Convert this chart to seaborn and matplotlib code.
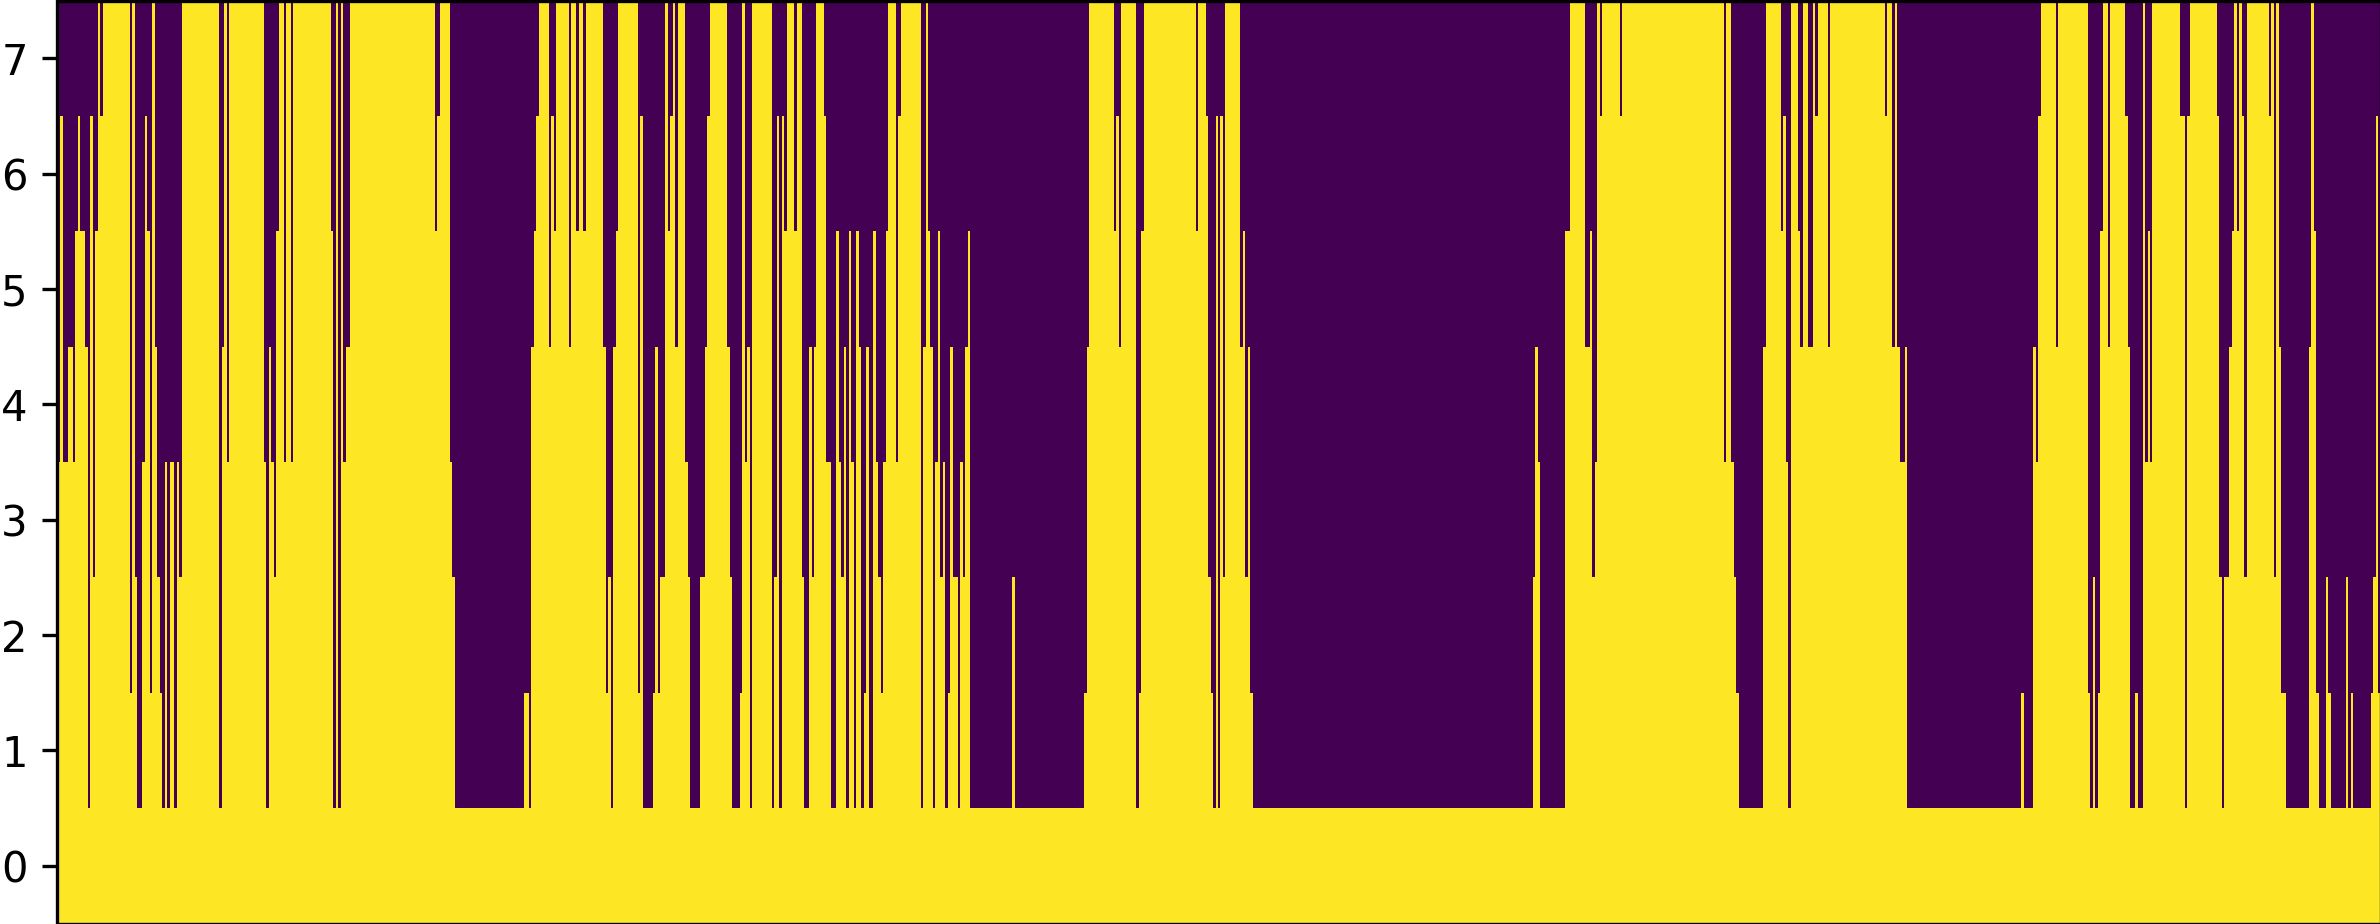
import numpy as np
import seaborn as sns
from matplotlib import pyplot as plt

# number of lit rows in each column, run-length encoded left to right
run_heights = [
    4, 7, 4, 5, 4, 6, 7, 6, 5, 1, 7, 3, 6, 8, 7, 8, 2, 8, 3, 1, 4, 7, 6, 2, 8, 5, 3, 2, 1, 4, 1, 4, 1, 4, 3, 8, 1, 5, 8, 4, 8,
    4, 1, 5, 4, 3, 6, 8, 4, 8, 4, 8, 6, 1, 8, 1, 8, 4, 5, 8, 6, 7, 8,
    4, 3, 1, 2, 1, 5, 6, 7, 8, 5, 7, 6, 8, 5, 8, 6, 8, 6, 8, 5, 2, 3, 1, 5, 6, 8, 2, 7, 1,
    2, 5, 2, 3, 8, 6, 7, 8, 5, 8, 4, 3, 1, 3, 5, 7, 8, 5, 3, 1, 2, 8, 4, 5, 1, 8, 1, 3, 7, 1, 7, 6, 8, 6, 8, 3, 1, 5, 3, 5, 8, 7, 4, 1, 6, 4, 3, 5, 1, 6,
    4, 1, 6, 5, 1, 2, 5, 1, 6, 4, 3, 2, 4, 6, 8, 4, 7, 8, 1, 5, 8, 6, 5, 1, 4, 6, 3, 4, 1, 2, 5, 3, 1, 4, 3, 5, 6, 1, 3, 1, 2, 5, 8,
    6, 7, 5, 8, 1, 2, 6, 8, 6, 8, 7, 3, 2, 1, 7, 1, 7, 3, 8, 5, 6, 3, 5, 2, 1,
    3, 5, 4, 1, 6, 8, 5, 6, 3, 4, 8, 7, 8, 7, 8, 4, 8, 4, 3, 2, 1,
    5, 8, 6, 7, 4, 1, 8, 6, 5, 8, 5, 8, 7, 8, 5, 8, 7, 8, 5, 8, 5, 4, 5, 1,
    2, 1, 5, 4, 7, 8, 5, 8, 2, 1, 3, 1, 2, 6, 8, 5, 8, 7, 5, 1, 2, 1, 8, 4, 6, 4, 8,
    7, 1, 7, 8, 7, 3, 1, 3, 5, 6, 8, 6, 8, 7, 3, 8, 7, 8, 3, 8, 5, 2, 1, 5, 8, 6, 2, 1, 3, 2, 1, 3, 1, 2, 1, 2, 3, 7, 2,
]
run_lengths = [
    1, 1, 2, 2, 1, 1, 1, 2, 1, 1, 1, 1, 1, 1, 1, 11, 1, 1, 1, 2, 1, 1, 1, 1, 1, 1, 1, 1, 1, 1, 1, 2, 1, 1, 1, 15, 1, 1, 1, 1, 14,
    1, 1, 1, 1, 1, 1, 2, 1, 2, 1, 15, 1, 1, 1, 1, 1, 1, 2, 34, 1, 1, 4,
    1, 1, 28, 2, 1, 1, 1, 1, 4, 1, 1, 1, 5, 1, 2, 1, 2, 1, 7, 1, 1, 1, 1, 1, 1, 8, 1, 1, 4,
    1, 1, 1, 2, 1, 1, 1, 1, 1, 3, 1, 1, 4, 2, 1, 1, 7, 1, 1, 3, 1, 1, 1, 1, 1, 8, 1, 1, 1, 1, 1, 1, 3, 1, 2, 1, 2, 1, 1, 1, 3, 1, 2, 2, 1, 1, 1, 1, 1, 1,
    1, 1, 1, 1, 1, 1, 1, 2, 1, 1, 1, 1, 1, 1, 3, 1, 1, 8, 1, 1, 1, 1, 1, 1, 1, 1, 1, 1, 1, 1, 1, 2, 1, 1, 1, 1, 1, 17, 1, 28, 1, 1, 10,
    1, 1, 1, 6, 1, 1, 1, 21, 1, 3, 1, 1, 1, 1, 1, 1, 1, 1, 6, 1, 1, 1, 1, 1, 113,
    1, 1, 1, 10, 2, 6, 2, 1, 1, 1, 1, 1, 7, 1, 41, 1, 2, 1, 1, 1, 10,
    1, 6, 1, 1, 1, 1, 3, 1, 1, 2, 2, 1, 1, 4, 1, 22, 1, 2, 1, 1, 1, 2, 1, 46,
    1, 4, 1, 1, 1, 6, 1, 12, 1, 1, 1, 1, 1, 1, 2, 1, 6, 1, 1, 2, 1, 2, 1, 1, 1, 1, 11,
    2, 1, 1, 11, 1, 1, 1, 2, 1, 1, 1, 1, 1, 1, 1, 9, 1, 1, 1, 1, 1, 2, 9, 1, 1, 1, 1, 3, 1, 1, 6, 1, 1, 1, 7, 1, 1, 1, 1,
]
row_labels = [0, 1, 2, 3, 4, 5, 6, 7]

heights = np.repeat(run_heights, run_lengths)
rows = np.arange(len(row_labels))
matrix = (rows[:, None] < heights).astype(int)

W, H, DPI = 2380, 924, 300
fig = plt.figure(figsize=(W / DPI, H / DPI), dpi=DPI)
ax = fig.add_axes([58 / W, 0.5 / H, 2322.5 / W, 923 / H])

sns.heatmap(matrix, cmap='viridis', vmin=0, vmax=1, cbar=False, ax=ax,
            xticklabels=False, yticklabels=row_labels)
ax.invert_yaxis()
ax.tick_params(axis='y', labelrotation=0)
for spine in ax.spines.values():
    spine.set_visible(True)
# spine sits a hair left of the first column in the original
ax.spines['left'].set_position(('outward', 0.31))

fig.savefig('out.png', dpi=DPI)
